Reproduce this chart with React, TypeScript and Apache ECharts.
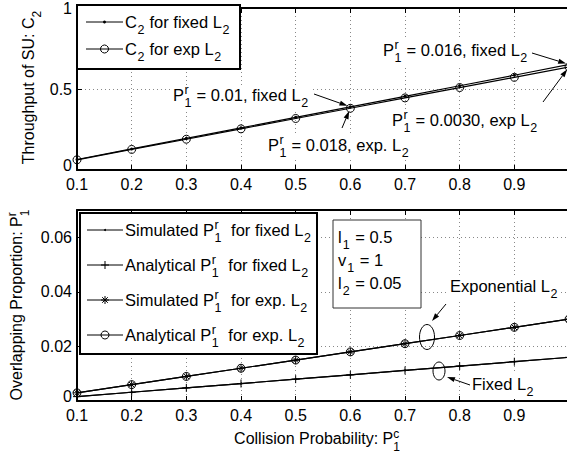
import React, { useEffect, useRef } from 'react';
import * as echarts from 'echarts';

// ---------------- data ----------------
const collisionProb = [0.1, 0.2, 0.3, 0.4, 0.5, 0.6, 0.7, 0.8, 0.9, 1.0];
const c2Fixed = [0.065, 0.13, 0.195, 0.26, 0.325, 0.39, 0.455, 0.52, 0.585, 0.652];
const c2Exp = [0.063, 0.127, 0.19, 0.254, 0.318, 0.381, 0.445, 0.509, 0.572, 0.636];
const prFixedSim = [0.0016, 0.0032, 0.0048, 0.0064, 0.008, 0.0096, 0.0112, 0.0128, 0.0144, 0.016];
const prFixedAna = [0.0016, 0.0032, 0.0048, 0.0064, 0.008, 0.0096, 0.0112, 0.0128, 0.0144, 0.016];
const prExpSim = [0.003, 0.006, 0.009, 0.012, 0.015, 0.018, 0.021, 0.024, 0.027, 0.03];
const prExpAna = [0.003, 0.006, 0.009, 0.012, 0.015, 0.018, 0.021, 0.024, 0.027, 0.03];
const xTickLabels = ['0.1', '0.2', '0.3', '0.4', '0.5', '0.6', '0.7', '0.8', '0.9'];
const topYTickLabels = ['0', '0.5', '1'];
const bottomYTickLabels = ['0', '0.02', '0.04', '0.06'];

// ---------------- helpers ----------------
const FONT = 'Liberation Sans, Arial, Helvetica, sans-serif';
const SUB_DY = 8;
const SUP_DY = -5;

let mctx: CanvasRenderingContext2D | null = null;
function measure(text: string, size: number): number {
  if (!mctx) mctx = document.createElement('canvas').getContext('2d');
  if (!mctx) return text.length * size * 0.55;
  mctx.font = `${size}px ${FONT}`;
  return mctx.measureText(text).width;
}

type Tok = { main?: string; sub?: string; sup?: string };
function parseTex(s: string): Tok[] {
  const toks: Tok[] = [];
  let buf = '';
  for (let i = 0; i < s.length; i++) {
    const ch = s[i];
    if ((ch === '_' || ch === '^') && i + 1 < s.length) {
      if (buf) { toks.push({ main: buf }); buf = ''; }
      const key = ch === '_' ? 'sub' : 'sup';
      const last = toks[toks.length - 1];
      if (last && last.main === undefined && (last as any)[key] === undefined) {
        (last as any)[key] = s[i + 1];
      } else {
        const t: Tok = {};
        (t as any)[key] = s[i + 1];
        toks.push(t);
      }
      i++;
    } else {
      buf += ch;
    }
  }
  if (buf) toks.push({ main: buf });
  return toks;
}

function txt(text: string, x: number, y: number, size: number) {
  return {
    type: 'text', x, y, z: 101, silent: true,
    style: { text, fontSize: size, fontFamily: FONT, fill: '#000', textAlign: 'left', textVerticalAlign: 'middle' },
  };
}

type TexOpts = { align?: 'left' | 'center'; rotate?: boolean; bg?: boolean; size?: number; script?: number; gap?: number };
function tex(src: string, x: number, y: number, opts: TexOpts = {}) {
  const size = opts.size ?? 16.5;
  const script = opts.script ?? 12.5;
  const gap = opts.gap ?? 0.5;
  const toks = parseTex(src);
  let cx = 0;
  const kids: any[] = [];
  for (const t of toks) {
    if (t.main !== undefined) {
      kids.push(txt(t.main, cx, 0, size));
      cx += measure(t.main, size);
    } else {
      let w = 0;
      cx += gap;
      if (t.sub) { kids.push(txt(t.sub, cx, SUB_DY, script)); w = Math.max(w, measure(t.sub, script)); }
      if (t.sup) { kids.push(txt(t.sup, cx, SUP_DY, script)); w = Math.max(w, measure(t.sup, script)); }
      cx += w + gap;
    }
  }
  const off = opts.align === 'center' ? -cx / 2 : 0;
  kids.forEach((k) => { k.x += off; });
  if (opts.bg) {
    kids.unshift({ type: 'rect', z: 100, silent: true, shape: { x: off - 2, y: -10, width: cx + 4, height: 25 }, style: { fill: '#fff' } });
  }
  return { type: 'group', x, y, rotation: opts.rotate ? Math.PI / 2 : 0, children: kids };
}

function arrow(x1: number, y1: number, x2: number, y2: number) {
  const ang = Math.atan2(y2 - y1, x2 - x1);
  const L = 8, W = 2.6;
  const bx = x2 - L * Math.cos(ang), by = y2 - L * Math.sin(ang);
  const px = -Math.sin(ang) * W, py = Math.cos(ang) * W;
  return [
    { type: 'line', z: 102, silent: true, shape: { x1, y1, x2: bx, y2: by }, style: { stroke: '#000', lineWidth: 1 } },
    { type: 'polygon', z: 102, silent: true, shape: { points: [[x2, y2], [bx + px, by + py], [bx - px, by - py]] }, style: { fill: '#000' } },
  ];
}

function toward(x1: number, y1: number, p: number[], back: number): [number, number] {
  const dx = p[0] - x1, dy = p[1] - y1;
  const d = Math.sqrt(dx * dx + dy * dy);
  return [p[0] - (dx / d) * back, p[1] - (dy / d) * back];
}

const lineSeg = (x1: number, y1: number, x2: number, y2: number, w = 1) => ({
  type: 'line', z: 101, silent: true, shape: { x1, y1, x2, y2 }, style: { stroke: '#000', lineWidth: w },
});
const circ = (cx: number, cy: number, r: number, filled = false) => ({
  type: 'circle', z: 101, silent: true, shape: { cx, cy, r },
  style: filled ? { fill: '#000' } : { fill: 'none', stroke: '#000', lineWidth: 1 },
});
const plusMark = (cx: number, cy: number, s: number) => [lineSeg(cx - s, cy, cx + s, cy), lineSeg(cx, cy - s, cx, cy + s)];
const asterMark = (cx: number, cy: number, s: number) => {
  const d = s * 0.7;
  return [...plusMark(cx, cy, s), lineSeg(cx - d, cy - d, cx + d, cy + d), lineSeg(cx - d, cy + d, cx + d, cy - d)];
};

const PLUS = 'path://M0,5H10M5,0V10';
const ASTER = 'path://M0,5H10M5,0V10M1.5,1.5L8.5,8.5M1.5,8.5L8.5,1.5';

const labelFmt = (labels: string[], liftZero = false) => (v: number) => {
  const f = labels.find((l) => Math.abs(parseFloat(l) - v) < 1e-9);
  if (f === undefined) return '';
  if (liftZero && Math.abs(v) < 1e-12) return `{z|${f}}`;
  return f;
};

const axisText = { color: '#000', fontSize: 16, fontFamily: FONT, lineHeight: 10 };
const zeroRich = { z: { color: '#000', fontSize: 16, fontFamily: FONT, lineHeight: 10, padding: [0, 0, 9, 0] } };
const splitStyle = { show: true, lineStyle: { color: '#888', type: [1, 3], width: 1 } };

function xAxes(gi: number) {
  return [
    {
      type: 'value', gridIndex: gi, position: 'bottom', min: 0.1, max: 1, interval: 0.1,
      axisLine: { show: true, onZero: false, lineStyle: { color: '#000', width: 2 } },
      axisTick: { show: true, inside: true, length: 5, lineStyle: { color: '#000', width: 1 } },
      axisLabel: { ...axisText, margin: 9, showMaxLabel: false, formatter: labelFmt(xTickLabels) },
      splitLine: splitStyle,
    },
    {
      type: 'value', gridIndex: gi, position: 'top', min: 0.1, max: 1, interval: 0.1,
      axisLine: { show: true, onZero: false, lineStyle: { color: '#000', width: 2 } },
      axisTick: { show: true, inside: true, length: 5, lineStyle: { color: '#000', width: 1 } },
      axisLabel: { show: false },
      splitLine: { show: false },
    },
  ];
}

function series(name: string, xi: number, yi: number, ys: number[], symbol: string, size: number, hollow: boolean) {
  return {
    type: 'line', name, xAxisIndex: xi, yAxisIndex: yi,
    data: collisionProb.map((x, i) => [x, ys[i]]),
    symbol, symbolSize: size, showAllSymbol: true,
    lineStyle: { color: '#000', width: 1.2 },
    itemStyle: hollow ? { color: 'rgba(0,0,0,0)', borderColor: '#000', borderWidth: 1 } : { color: '#000', borderWidth: 0 },
    emphasis: { disabled: true },
  };
}

export default function App() {
  const ref = useRef<HTMLDivElement>(null);
  useEffect(() => {
    if (!ref.current) return;
    const chart = echarts.init(ref.current, undefined, { renderer: 'svg' });
    chart.setOption({
      animation: false,
      backgroundColor: '#fff',
      grid: [
        { left: 77, top: 5, width: 492, height: 165 },
        { left: 77, top: 210, width: 492, height: 191 },
      ],
      xAxis: [...xAxes(0), ...xAxes(1)],
      yAxis: [
        {
          type: 'value', gridIndex: 0, min: 0, max: 1, interval: 0.5,
          axisLine: { show: true, onZero: false, lineStyle: { color: '#000', width: 2 } },
          axisTick: { show: true, inside: true, length: 5, lineStyle: { color: '#000', width: 1 } },
          axisLabel: { ...axisText, margin: 5, rich: zeroRich, formatter: labelFmt(topYTickLabels, true) },
          splitLine: splitStyle,
        },
        {
          type: 'value', gridIndex: 1, min: 0, max: 0.07, interval: 0.02,
          axisLine: { show: true, onZero: false, lineStyle: { color: '#000', width: 2 } },
          axisTick: { show: true, inside: true, length: 5, lineStyle: { color: '#000', width: 1 } },
          axisLabel: { ...axisText, margin: 5, showMaxLabel: false, rich: zeroRich, formatter: labelFmt(bottomYTickLabels, true) },
          splitLine: splitStyle,
        },
      ],
      series: [
        series('C2 for fixed L2', 0, 0, c2Fixed, 'circle', 3, false),
        series('C2 for exp L2', 0, 0, c2Exp, 'circle', 8, true),
        series('Simulated P1r for fixed L2', 2, 1, prFixedSim, 'circle', 2, false),
        series('Analytical P1r for fixed L2', 2, 1, prFixedAna, PLUS, 8, true),
        series('Simulated P1r for exp. L2', 2, 1, prExpSim, ASTER, 8, true),
        series('Analytical P1r for exp. L2', 2, 1, prExpAna, 'circle', 8, true),
      ],
    });

    const px = (gi: number, pt: number[]) => chart.convertToPixel({ gridIndex: gi } as any, pt) as number[];
    const pFix6 = px(0, [collisionProb[5], c2Fixed[5]]);
    const pExp6 = px(0, [collisionProb[5], c2Exp[5]]);
    const pFix10 = px(0, [collisionProb[9], c2Fixed[9]]);
    const pExp10 = px(0, [collisionProb[9], c2Exp[9]]);

    const a1 = toward(314, 94, pFix6, 3);
    const a2 = toward(342, 128, pExp6, 3);
    const a3 = toward(532, 53, pFix10, 3);
    const a4 = toward(543, 102, pExp10, 3);

    const axisName = { align: 'center' as const, rotate: false, size: 16, script: 12, gap: 0 };

    const graphic: any[] = [
      // top legend
      { type: 'rect', z: 99, silent: true, shape: { x: 77, y: 5, width: 163, height: 64 }, style: { fill: '#fff', stroke: '#000', lineWidth: 2 } },
      lineSeg(86, 22, 123, 22), circ(104.5, 22, 1.5, true),
      tex('C_2 for fixed L_2', 125, 22),
      lineSeg(86, 49, 123, 49), circ(104.5, 49, 4),
      tex('C_2 for exp L_2', 125, 49),
      // top annotations
      tex('P_1^r = 0.01, fixed L_2', 173, 95, { bg: true }),
      tex('P_1^r = 0.018, exp. L_2', 268, 145, { bg: true }),
      tex('P_1^r = 0.016, fixed L_2', 383, 50, { bg: true }),
      tex('P_1^r = 0.0030, exp L_2', 392, 120, { bg: true }),
      ...arrow(314, 94, a1[0], a1[1]),
      ...arrow(342, 128, a2[0], a2[1]),
      ...arrow(532, 53, a3[0], a3[1]),
      ...arrow(543, 102, a4[0], a4[1]),
      // axis names
      tex('Throughput of SU: C_2', 28.5, 87.5, { ...axisName, rotate: true }),
      tex('Overlapping Proportion: P_1^r', 16.7, 305, { ...axisName, rotate: true }),
      tex('Collision Probability: P_1^c', 317, 438.5, axisName),
      // bottom legend
      { type: 'rect', z: 99, silent: true, shape: { x: 80, y: 213, width: 237, height: 141 }, style: { fill: '#fff', stroke: '#000', lineWidth: 2 } },
      lineSeg(87, 230, 123, 230), circ(105, 230, 1, true),
      tex('Simulated P_1^r  for fixed L_2', 125, 230),
      lineSeg(87, 265, 123, 265), ...plusMark(105, 265, 4),
      tex('Analytical P_1^r  for fixed L_2', 125, 265),
      lineSeg(87, 300, 123, 300), ...asterMark(105, 300, 4),
      tex('Simulated P_1^r  for exp. L_2', 125, 300),
      lineSeg(87, 335, 123, 335), circ(105, 335, 4),
      tex('Analytical P_1^r  for exp. L_2', 125, 335),
      // parameter box
      { type: 'rect', z: 99, silent: true, shape: { x: 333, y: 220, width: 88, height: 88 }, style: { fill: '#fff', stroke: '#333', lineWidth: 1 } },
      tex('l_1 = 0.5', 338, 237, { gap: 1 }),
      tex('v_1 = 1', 338, 260, { gap: 1 }),
      tex('l_2 = 0.05', 338, 283, { gap: 1 }),
      // group annotations
      tex('Exponential L_2', 450, 286, { bg: true }),
      { type: 'ellipse', z: 102, silent: true, shape: { cx: 427, cy: 337, rx: 7.5, ry: 12.5 }, style: { fill: 'none', stroke: '#000', lineWidth: 1 } },
      ...arrow(446, 304, 432, 321),
      tex('Fixed L_2', 472, 384, { bg: true }),
      { type: 'ellipse', z: 102, silent: true, shape: { cx: 439, cy: 371, rx: 6, ry: 9 }, style: { fill: 'none', stroke: '#000', lineWidth: 1 } },
      ...arrow(470, 385, 447, 377),
    ];
    chart.setOption({ graphic });
    return () => chart.dispose();
  }, []);

  return (
    <div style={{ position: 'absolute', left: 0, top: 0, width: 567, height: 459, overflow: 'hidden', background: '#fff' }}>
      <div ref={ref} style={{ width: 580, height: 459 }} />
    </div>
  );
}
